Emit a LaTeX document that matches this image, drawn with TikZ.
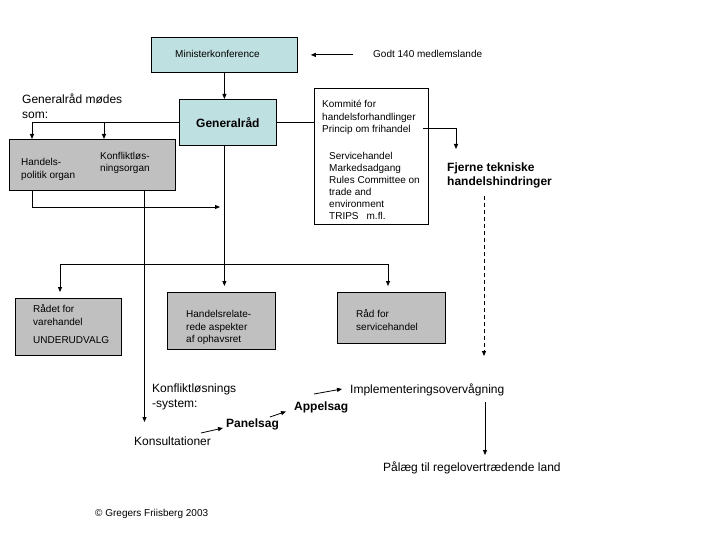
\documentclass[tikz,border=0pt]{standalone}
\usepackage{fontspec}
\setmainfont{Liberation Sans}
\usetikzlibrary{arrows.meta}
\definecolor{boxteal}{HTML}{BFE0E0}
\definecolor{boxgray}{HTML}{C0C0C0}
\begin{document}
\begin{tikzpicture}[x=1pt,y=-1pt,
  every node/.style={inner sep=0pt},
  box/.style={draw, line width=0.8pt, anchor=north west},
  sm/.style={font=\fontsize{10}{12.5}\selectfont, align=left, anchor=base west},
  lg/.style={font=\fontsize{12}{14.5}\selectfont, align=left, anchor=base west},
  lgb/.style={font=\bfseries\fontsize{12}{14.5}\selectfont, align=left, anchor=base west},
  ln/.style={line width=0.8pt},
  arr/.style={ln, -{Triangle[length=5pt,width=4pt]}}]
\useasboundingbox (0,0) rectangle (720,540);

% boxes
\node[box, fill=boxteal, minimum width=146pt, minimum height=35pt] (mk) at (151,37) {};
\node[box, fill=boxteal, minimum width=97pt, minimum height=46pt, font=\bfseries\fontsize{12}{14}\selectfont] (gr) at (179,99) {Generalråd};
\node[box, fill=boxgray, minimum width=166pt, minimum height=51pt] (org) at (9,139) {};
\node[box, fill=white, minimum width=114pt, minimum height=136pt] (kom) at (314,88) {};
\node[box, fill=boxgray, minimum width=106pt, minimum height=57pt] (rv) at (15,298) {};
\node[box, fill=boxgray, minimum width=108pt, minimum height=57pt] (hr) at (167,292) {};
\node[box, fill=boxgray, minimum width=108pt, minimum height=51pt] (rs) at (337,292) {};

% texts (multi-line nodes: base = last line)
\node[sm] (mkt) at (175,58) {Ministerkonference};
\node[sm] (godt) at (373,57.5) {Godt 140 medlemslande};
\node[lg] (gms) at (22,118.5) {Generalråd mødes\\som:};
\node[sm] (hpo) at (21,178.5) {Handels-\\politik organ};
\node[sm] (klo) at (100,172) {Konfliktløs-\\ningsorgan};
\node[sm] (komt) at (322,133) {Kommité for\\handelsforhandlinger\\Princip om frihandel};
\node[sm, font=\fontsize{10}{12}\selectfont] (komu) at (329,219.5) {Servicehandel\\Markedsadgang\\Rules Committee on\\trade and\\environment\\TRIPS\hspace{8pt}m.fl.};
\node[lgb] (fj) at (447,185.8) {Fjerne tekniske\\handelshindringer};
\node[sm] (rvt) at (33,325) {Rådet for\\varehandel};
\node[sm] (rvu) at (33,343.5) {UNDERUDVALG};
\node[sm] (hrt) at (186,342.5) {Handelsrelate-\\rede aspekter\\af ophavsret};
\node[sm] (rst) at (356,330) {Råd for\\servicehandel};
\node[lg] (kls) at (152,407) {Konfliktløsnings\\-system:};
\node[lg] (kons) at (134,445) {Konsultationer};
\node[lgb] (pan) at (226,427) {Panelsag};
\node[lgb] (app) at (294,410) {Appelsag};
\node[lg] (imp) at (350,393) {Implementeringsovervågning};
\node[lg] (pal) at (383,471) {Pålæg til regelovertrædende land};
\node[sm] (copy) at (95,516.5) {© Gregers Friisberg 2003};

% coordinates
\coordinate (hp) at (32,139);
\coordinate (kp) at (104,139);
\coordinate (he) at (220,207);
\coordinate (kv) at (144.5,190);
\coordinate (kt) at (144.5,422);
\coordinate (bl) at (60,264);
\coordinate (br) at (388,264);
\coordinate (pe) at (423,128);
\coordinate (pa) at (456,149);
\coordinate (d1) at (484,196);
\coordinate (d2) at (484,356);
\coordinate (i1) at (485,402);
\coordinate (i2) at (485,455);
\coordinate (a1) at (201,433);
\coordinate (a2) at (223,428);
\coordinate (b1) at (270,417);
\coordinate (b2) at (286,411.5);
\coordinate (c1) at (314,394);
\coordinate (c2) at (342,389);

% connectors
\draw[arr, shorten <=20pt, shorten >=13pt] (mk.east -| godt.west) -- (mk.east);
\draw[arr] (mk.south) -- (mk.south |- gr.north);
\draw[arr] (gr.west) -| (hp);
\draw[arr] (kp |- gr.west) -- (kp);
\draw[arr] (hp |- org.south) |- (he);
\draw[arr] (kv) -- (kt);
\draw[arr, shorten >=6pt] (mk.south |- gr.south) -- (mk.south |- hr.north);
\draw[ln] (bl) -- (br);
\draw[arr, shorten >=6pt] (bl) -- (bl |- rv.north);
\draw[arr, shorten >=6pt] (br) -- (br |- rs.north);
\draw[ln] (gr.east) -- (gr.east -| kom.west);
\draw[arr] (pe) -| (pa);
\draw[arr, dash pattern=on 4pt off 3pt] (d1) -- (d2);
\draw[arr] (i1) -- (i2);
\draw[arr] (a1) -- (a2);
\draw[arr] (b1) -- (b2);
\draw[arr] (c1) -- (c2);
\end{tikzpicture}
\end{document}
